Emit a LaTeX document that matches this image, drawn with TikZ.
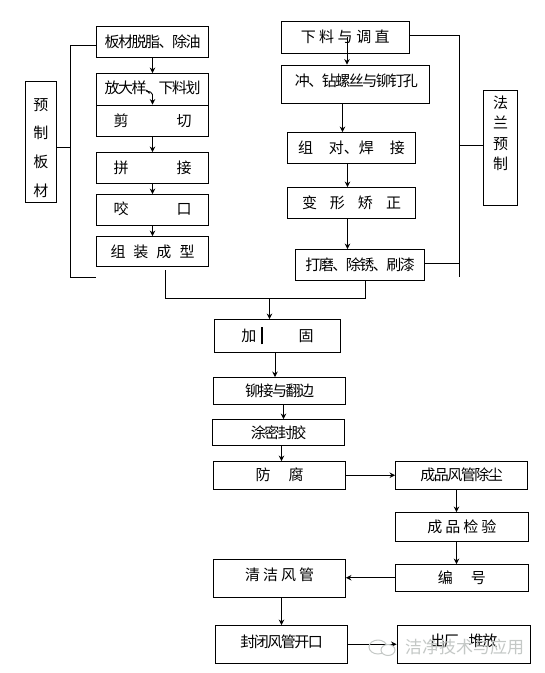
\documentclass[tikz,border=0pt]{standalone}
\usepackage{fontspec}
\usetikzlibrary{arrows.meta,calc}
\setmainfont{Noto Sans CJK SC}
\newfontfamily\cjktight[LetterSpace=-10]{Noto Sans CJK SC}
\definecolor{markgray}{HTML}{C4C8C6}
\newcommand{\gap}[1]{\hspace*{#1pt}}
\tikzset{
  bx/.style={draw=black, line width=0.9pt, fill=white, inner sep=0pt, align=center, font=\fontsize{15}{18}\selectfont},
  bxt/.style={bx, font=\fontsize{15}{18}\selectfont\cjktight},
  vbx/.style={bx, font=\fontsize{15}{20.5}\selectfont},
  arr/.style={-{Stealth[length=5.5pt,width=5.5pt]}, line width=0.9pt, color=black},
  ln/.style={line width=0.9pt, color=black},
  wmark/.style={font=\fontsize{17}{20}\selectfont, text=markgray, inner sep=0pt},
}
\begin{document}
\begin{tikzpicture}[x=1pt,y=-1pt]
    \useasboundingbox (0,0) rectangle (545,673);
    % left column
    \node[vbx, font=\fontsize{15}{28.7}\selectfont, minimum width=31, minimum height=120.5] (yuzhi) at (41,141.75) {\rule{0pt}{24pt}预\\制\\板\\材};
    \node[bxt, minimum width=112, minimum height=30.5] (tuozhi) at (152.5,41.75) {板材脱脂、除油};
    \node[bxt, minimum width=112, minimum height=31.5, text depth=5pt] (fangyang) at (152.5,89.25) {放大样、下料划};
    \node[bx, minimum width=112, minimum height=31] (jianqie) at (152.5,120.5) {剪\gap{48}切};
    \node[bx, minimum width=112, minimum height=30.5] (pinjie) at (152.5,167.75) {拼\gap{48}接};
    \node[bx, minimum width=112, minimum height=31, text depth=4pt] (yaokou) at (152.5,210) {咬\gap{48}口};
    \node[bx, minimum width=112, minimum height=30] (zuzhuang) at (152.5,251.5) {组\gap{8}装\gap{8}成\gap{8}型};
    % right column
    \node[vbx, minimum width=34, minimum height=114.5, text depth=30pt] (falan) at (500.5,147.75) {法\\兰\\预\\制};
    \node[bx, minimum width=128.5, minimum height=31.5] (xialiao) at (345.25,37.25) {下\gap{3.5}料\gap{3.5}与\gap{3.5}调\gap{3.5}直};
    \node[bxt, minimum width=148.5, minimum height=38, text depth=8pt] (chongkong) at (355.25,84) {\gap{2}冲、钻螺丝与铆钉孔};
    \node[bx, minimum width=128, minimum height=30.5] (zudui) at (351.5,147.75) {组\gap{16}对、焊\gap{16}接};
    \node[bx, minimum width=128, minimum height=30.5] (bianxing) at (351.5,202.75) {变\gap{13}形\gap{13}矫\gap{13}正};
    \node[bxt, minimum width=129, minimum height=30.5] (damo) at (360,264.75) {打磨、除锈、刷漆};
    % middle and bottom
    \node[bx, minimum width=126, minimum height=32.5] (jiagu) at (277.5,335.75) {加\gap{5}\rule[-3pt]{1.4pt}{17pt}\gap{36}固};
    \node[bxt, minimum width=132, minimum height=27] (maojie) at (279.5,391) {铆接与翻边};
    \node[bxt, minimum width=132, minimum height=26] (tumi) at (278.5,432.5) {涂密封胶};
    \node[bx, minimum width=132, minimum height=27.5] (fangfu) at (279.5,475.25) {防\gap{18}腐};
    \node[bxt, minimum width=132, minimum height=27.5] (chuchen) at (461.5,475.25) {成品风管除尘};
    \node[bx, minimum width=132.5, minimum height=29] (jianyan) at (461.75,527) {成\gap{3}品\gap{3}检\gap{3}验};
    \node[bx, minimum width=132.5, minimum height=26.5] (bianhao) at (461.75,577.75) {编\gap{18}号};
    \node[bx, minimum width=132, minimum height=37.5, text depth=8pt] (qingjie) at (279.5,578.25) {清\gap{3}洁\gap{3}风\gap{3}管};
    \node[bxt, minimum width=132, minimum height=37.5, text depth=7pt] (fengbi) at (281.5,644.25) {封闭风管开口};
    \node[bxt, minimum width=133.5, minimum height=37.5, text depth=9pt] (chuchang) at (463.75,644.25) {出厂\gap{10}堆放};
    % heavy rule between the two upper boxes
    \draw[line width=1.6pt] (fangyang.south west) -- (fangyang.south east);
    % left bracket
    \coordinate (lbtop) at (70.5,45);
    \coordinate (lbend) at (96,277);
    \draw[ln] ([yshift=-3.25pt]tuozhi.west) -- (lbtop) -- (70.5,277) -- (lbend);
    \draw[ln] (yuzhi.east |- 0,147) -- (70.5,147);
    % right bracket
    \coordinate (rbtop) at (459.5,35);
    \coordinate (rbend) at (459.5,277);
    \draw[ln] (xialiao.east |- rbtop) -- (rbtop) -- (rbend);
    \draw[ln] (falan.west |- 0,145) -- (459.5,145);
    \draw[ln] (damo.east |- 0,263) -- (459.5,263);
    % merge
    \coordinate (mgl) at (165.5,298.5);
    \coordinate (mgr) at (365.5,298.5);
    \coordinate (mgm) at (269.5,298.5);
    \draw[ln] ([xshift=13pt,yshift=-3.5pt]zuzhuang.south) -- (mgl) -- (mgr) -- (damo.south -| mgr);
    \draw[arr] (mgm) -- (jiagu.north -| mgm);
    % arrows, left column
    \draw[arr] (tuozhi.south) -- (fangyang.north);
    \coordinate (fyhook) at (146,91);
    \draw[arr, rounded corners=2pt] (fyhook) -- (152.5,92.5) -- (jianqie.north);
    \draw[arr] (jianqie.south) -- (pinjie.north);
    \draw[arr] (pinjie.south) -- (yaokou.north);
    \draw[arr] (yaokou.south) -- (zuzhuang.north);
    % arrows, right column
    \draw[arr] ([xshift=1.75pt]xialiao.center) -- ([xshift=-8.25pt]chongkong.north);
    \draw[arr] ([xshift=-12.75pt]chongkong.south) -- ([xshift=-9pt]zudui.north);
    \draw[arr] ([xshift=-4pt]zudui.south) -- ([xshift=-4pt]bianxing.north);
    \draw[arr] ([xshift=-4pt]bianxing.south) -- ([xshift=-12.5pt]damo.north);
    % arrows, middle and bottom
    \draw[arr] ([xshift=-2.5pt]jiagu.south) -- ([xshift=-4.5pt]maojie.north);
    \draw[arr] ([xshift=4pt]maojie.south) -- ([xshift=5pt]tumi.north);
    \draw[arr] ([xshift=3pt]tumi.south) -- ([xshift=2pt]fangfu.north);
    \draw[arr] (fangfu.east) -- (chuchen.west);
    \draw[arr] ([xshift=-5pt]chuchen.south) -- ([xshift=-5.25pt]jianyan.north);
    \draw[arr] ([xshift=-5.25pt]jianyan.south) -- ([xshift=-5.25pt]bianhao.north);
    \draw[arr] (bianhao.west) -- (bianhao.west -| qingjie.east);
    \draw[arr] ([xshift=2pt]qingjie.south) -- (fengbi.north);
    \draw[arr] (fengbi.east) -- (chuchang.west);
    % watermark
    \node[wmark] (shuiyin) at (464.5,647) {洁净技术与应用};
    \draw[markgray, line width=1pt] (378,647) circle[x radius=9, y radius=7];
    \draw[markgray, line width=1pt, fill=white] (388,650) circle[x radius=7, y radius=5.5];
  \end{tikzpicture}
\end{document}
